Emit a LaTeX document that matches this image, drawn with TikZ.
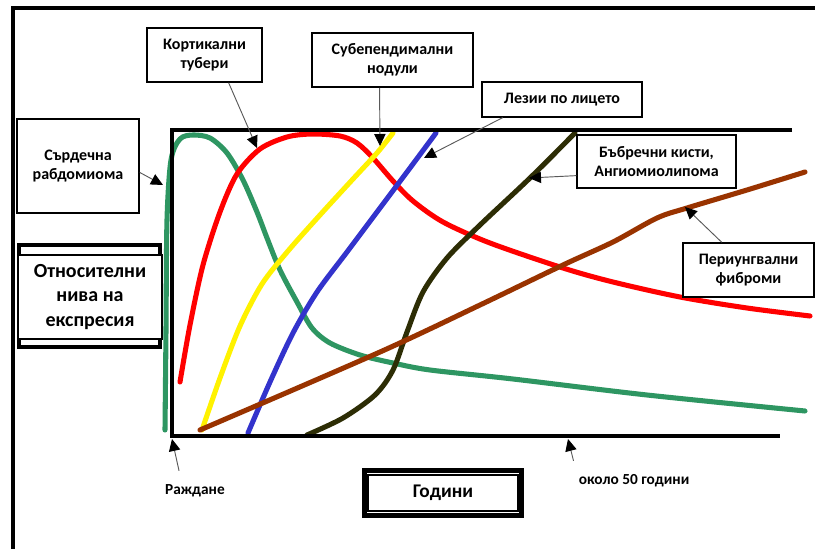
\documentclass[tikz,border=0pt]{standalone}
\usepackage{fontspec}
\setmainfont{Carlito}
\usetikzlibrary{arrows.meta}

\definecolor{zelena}{RGB}{46,150,98}
\definecolor{sinya}{RGB}{51,51,204}
\definecolor{maslina}{RGB}{45,45,5}
\definecolor{kafyava}{RGB}{153,51,0}

\tikzset{
  etiket/.style={draw, line width=1.2pt, fill=white, align=center, inner sep=2pt,
    font=\bfseries\fontsize{12}{14.5}\selectfont},
  strelka/.style={draw=black!65, line width=0.7pt,
    -{Triangle[length=9pt,width=8.5pt,color=black]}},
  kriva/.style={line width=3.8pt, line cap=round},
  ramka/.style={line width=3pt}
}

\begin{document}
\begin{tikzpicture}[x=0.75pt,y=-0.75pt]
  \useasboundingbox (0,0) rectangle (815,549);

  % vanshna ramka
  \draw[ramka] (13,549) -- (13,8) -- (815,8);

  % krivi
  \draw[kriva, zelena] plot[smooth] coordinates {(165,430) (166,330) (167,220) (171,160) (180,139) (193,135) (210,138) (227,153) (243,180) (257,212) (267,238) (280,270) (297,302) (312,328) (330,343) (360,355) (393,363) (430,370) (513,379) (647,395) (805,411)};
  \draw[kriva, red] plot[smooth] coordinates {(180,382) (190,325) (203,265) (220,212) (237,174) (260,149) (287,137) (312,134) (340,136) (357,143) (373,158) (393,181) (413,201) (443,222) (490,243) (563,268) (613,282) (680,297) (747,308) (810,316)};
  \draw[kriva, yellow] plot[smooth] coordinates {(202,430) (220,378) (240,326) (262,284) (288,251) (320,215) (353,179) (377,153) (393,133)};
  \draw[kriva, sinya] plot[smooth] coordinates {(248,433) (270,382) (293,333) (317,292) (347,252) (377,212) (407,172) (436,133)};
  \draw[kriva, maslina] plot[smooth] coordinates {(307,435) (343,418) (375,395) (393,370) (407,332) (423,292) (447,258) (480,225) (530,178) (575,133)};
  \draw[kriva, kafyava] plot[smooth] coordinates {(200,430) (380,352) (480,305) (563,265) (613,242) (657,218) (687,208) (747,190) (805,172)};

  % grafika
  \draw[ramka] (792,130) -- (172,130) -- (172,436) -- (780,436);

  % etiketi
  \node[etiket, minimum width=86pt, minimum height=40.5pt] (kort) at (204.5,55) {Кортикални\\тубери};
  \node[etiket, minimum width=120.5pt, minimum height=40.5pt] (sub) at (392.5,60) {Субепендимални\\нодули};
  \node[etiket, minimum width=120pt, minimum height=26pt] (lez) at (562,99.5) {Лезии по лицето};
  \node[etiket, minimum width=91.5pt, minimum height=70.5pt] (sard) at (78,166) {Сърдечна\\рабдомиома};
  \node[etiket, minimum width=119pt, minimum height=39.5pt] (bubr) at (656.5,161.5) {Бъбречни кисти,\\Ангиомиолипома};
  \node[etiket, minimum width=98pt, minimum height=40.5pt] (peri) at (748.5,270) {Периунгвални\\фиброми};

  % osi
  \draw[line width=2.5pt] (19,245) rectangle (160,347);
  \node[etiket, line width=2pt, minimum width=108pt, minimum height=63pt,
    font=\bfseries\fontsize{15}{18.5}\selectfont] (otn) at (90,297) {Относителни\\нива на\\експресия};
  \node[draw, line width=3.5pt, minimum width=118pt, minimum height=34pt, fill=white,
    font=\bfseries\fontsize{14.5}{17}\selectfont] (god) at (443,493) {Години};
  \draw[line width=0.8pt] (368,475) rectangle (518,511);

  \node[font=\bfseries\fontsize{11.5}{14}\selectfont, inner sep=1.5pt] (rozh) at (195,491) {Раждане};
  \node[font=\bfseries\fontsize{11.5}{14}\selectfont, inner sep=1.5pt] (okolo) at (634,481) {около 50 години};

  % strelki
  \coordinate (kortTip) at (257,148);
  \coordinate (subTip) at (380,146);
  \coordinate (lezTip) at (424,158);
  \coordinate (sardTip) at (163,185);
  \coordinate (bubrTip) at (529,178);
  \coordinate (periTip) at (685,207);
  \coordinate (rozhTip) at (172,439);
  \coordinate (okoloTip) at (568,439);

  \draw[strelka] (kort.-49) -- (kortTip);
  \draw[strelka] (sub.-115) -- (subTip);
  \draw[strelka] (lez.-163) -- (lezTip);
  \draw[strelka] (sard.-6) -- (sardTip);
  \draw[strelka] (bubr.-170) -- (bubrTip);
  \draw[strelka] (peri.134) -- (periTip);
  \draw[strelka, shorten <=9pt] ([xshift=14pt]rozh.north west) -- (rozhTip);
  \draw[strelka, shorten <=9pt] (okolo.north west) -- (okoloTip);
\end{tikzpicture}
\end{document}
